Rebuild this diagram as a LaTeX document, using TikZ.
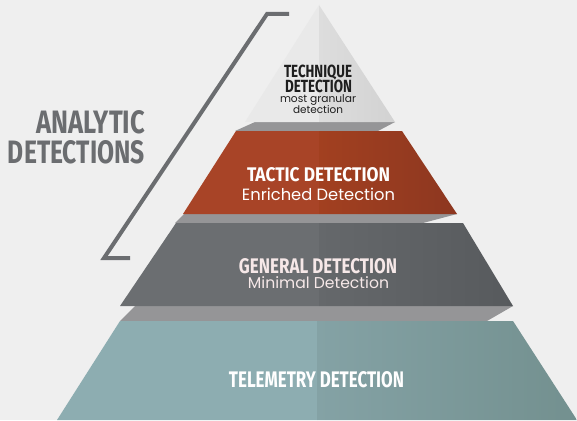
\documentclass[tikz,border=0pt]{standalone}
\usepackage{fontspec}
\usepackage{graphicx}
\setmainfont{Fira Sans}
\newfontfamily\subfont{Poppins}
\definecolor{bg}{HTML}{EFEFEF}
\definecolor{band}{HTML}{959597}
\definecolor{brk}{HTML}{6B6D70}
\definecolor{triL}{HTML}{E9E9E9}
\definecolor{triA}{HTML}{DDDDDD}
\definecolor{triB}{HTML}{D2D2D2}
\definecolor{orL}{HTML}{A84427}
\definecolor{orA}{HTML}{A24020}
\definecolor{orB}{HTML}{8D3720}
\definecolor{dgL}{HTML}{6B6E71}
\definecolor{dgA}{HTML}{65686B}
\definecolor{dgB}{HTML}{575A5D}
\definecolor{tlL}{HTML}{8DADB1}
\definecolor{tlA}{HTML}{84A2A5}
\definecolor{tlB}{HTML}{73908F}
\definecolor{txtdark}{HTML}{1E1E1E}
\definecolor{pinkw}{HTML}{F6E8E8}
\newcommand{\hd}[3]{\resizebox{#1pt}{#2pt}{\bfseries #3}}
\newcommand{\sbt}[2]{\resizebox{#1pt}{!}{\subfont #2}}
\begin{document}
\begin{tikzpicture}[x=1pt,y=-1pt,
  lbl/.style={inner sep=0pt, outer sep=0pt, anchor=base},
  bandfill/.style={fill=band},
  bracket/.style={draw=brk, line width=4pt, miter limit=10}]
\fill[bg] (0,0) rectangle (577,420);
\useasboundingbox (0,0) rectangle (577,420);
% bands
\fill[bandfill] (255,122) -- (395,122) -- (378,131) -- (235,131) -- cycle;
\fill[bandfill] (184,214) -- (457,214) -- (423,223) -- (175,223) -- cycle;
\fill[bandfill] (135,306) -- (513,306) -- (487,321) -- (120,321) -- cycle;
% top triangle
\fill[triL] (319,5) -- (319,122) -- (245,122) -- cycle;
\shade[left color=triA, right color=triB] (319,5) -- (395,122) -- (319,122) -- cycle;
% orange tier
\fill[orL] (236,131) -- (319,131) -- (319,214) -- (183,214) -- cycle;
\shade[left color=orA, right color=orB] (319,131) -- (402,131) -- (457,214) -- (319,214) -- cycle;
% dark gray tier
\fill[dgL] (176,223) -- (319,223) -- (319,306) -- (120,306) -- cycle;
\shade[left color=dgA, right color=dgB] (319,223) -- (463,223) -- (513,306) -- (319,306) -- cycle;
% teal tier
\fill[tlL] (120,321) -- (317,321) -- (317,420) -- (57,420) -- cycle;
\shade[left color=tlA, right color=tlB] (317,321) -- (513,321) -- (577,420) -- (317,420) -- cycle;
% bracket
\coordinate (b1) at (289,14);
\coordinate (b2) at (267,14);
\coordinate (b3) at (104,258);
\coordinate (b4) at (130,258);
\draw[bracket] (b1) -- (b2) -- (b3) -- (b4);
% texts
\node[lbl, anchor=base east, text=brk] (an1) at (145,133) {\hd{109}{23}{ANALYTIC}};
\node[lbl, anchor=base east, text=brk] (an2) at (145,163) {\hd{137}{23}{DETECTIONS}};
\node[lbl, text=txtdark] (t1) at (318,77) {\hd{68}{12.5}{TECHNIQUE}};
\node[lbl, text=txtdark] (t2) at (318.5,92) {\hd{67}{12.5}{DETECTION}};
\node[lbl, text=txtdark] (t3) at (318,102) {\sbt{76}{most granular}};
\node[lbl, text=txtdark] (t4) at (318,113) {\sbt{50}{detection}};
\node[lbl, text=white] (o1) at (318.5,181) {\hd{143}{14}{TACTIC DETECTION}};
\node[lbl, text=white] (o2) at (318.5,200) {\sbt{153}{Enriched Detection}};
\node[lbl, text=pinkw] (g1) at (318,273) {\hd{158}{15}{GENERAL DETECTION}};
\node[lbl, text=pinkw] (g2) at (318.5,288) {\sbt{141}{Minimal Detection}};
\node[lbl, text=white] (e1) at (316.5,387) {\hd{175}{16}{TELEMETRY DETECTION}};
\end{tikzpicture}
\end{document}
